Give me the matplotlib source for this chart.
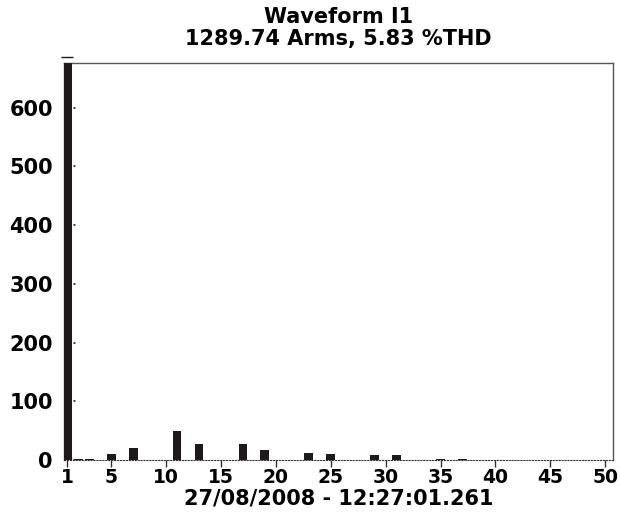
import matplotlib.pyplot as plt
import matplotlib.transforms as mtransforms
import numpy as np

plt.rcParams['font.family'] = ['DejaVu Sans']
plt.rcParams['font.weight'] = 'bold'

harmonics = np.arange(1, 51)
# harmonic amplitudes (A)
amps = np.zeros(50)
amps[0] = 681
amps[1] = 2
amps[2] = 2
amps[4] = 10
amps[6] = 21
amps[10] = 49
amps[12] = 27
amps[16] = 27
amps[18] = 18
amps[22] = 13
amps[24] = 10
amps[28] = 8
amps[30] = 8
amps[34] = 2
amps[36] = 2

title = 'Waveform I1\n1289.74 Arms, 5.83 %THD'
xlabel = '27/08/2008 - 12:27:01.261'
xticks = [1, 5, 10, 15, 20, 25, 30, 35, 40, 45, 50]
yticks = [0, 100, 200, 300, 400, 500, 600]
ymax = 676

fig = plt.figure(figsize=(6.21, 5.13), dpi=100)
ax = fig.add_axes([0.103, 0.103, 0.884, 0.774])

ax.bar(harmonics, amps, width=0.8, color='#1e1a1a', zorder=3)
# over-range marker on top of the fundamental
ax.plot([1], [amps[0] + 5], marker='_', markersize=8, color='#1e1a1a',
        clip_on=False, zorder=4)

ax.set_xlim(0.7, 50.7)
ax.set_ylim(0, ymax)

ax.set_xticks(xticks)
ax.set_xticklabels([str(t) for t in xticks], fontsize=13.5, fontweight='bold')
ax.set_yticks(yticks)
ax.set_yticklabels([str(t) for t in yticks], fontsize=15, fontweight='bold')
ax.tick_params(axis='x', length=5, width=1, color='#333333', pad=1)
ax.tick_params(axis='y', length=0, pad=8)

# short dotted tick stubs on the y axis
trans = mtransforms.blended_transform_factory(ax.transAxes, ax.transData)
for t in yticks:
    ax.plot([0, 0.026], [t, t], transform=trans, color='#222222',
            linestyle=':', linewidth=1.3, zorder=2)

for side in ['top', 'right', 'left']:
    ax.spines[side].set_color('#555555')
    ax.spines[side].set_linewidth(1)
ax.spines['bottom'].set_linestyle(':')
ax.spines['bottom'].set_color('#333333')

ax.set_title(title, fontsize=15, fontweight='bold', pad=13, linespacing=1.15)
ax.set_xlabel(xlabel, fontsize=15, fontweight='bold', labelpad=1)

fig.savefig('out.png', dpi=100)
